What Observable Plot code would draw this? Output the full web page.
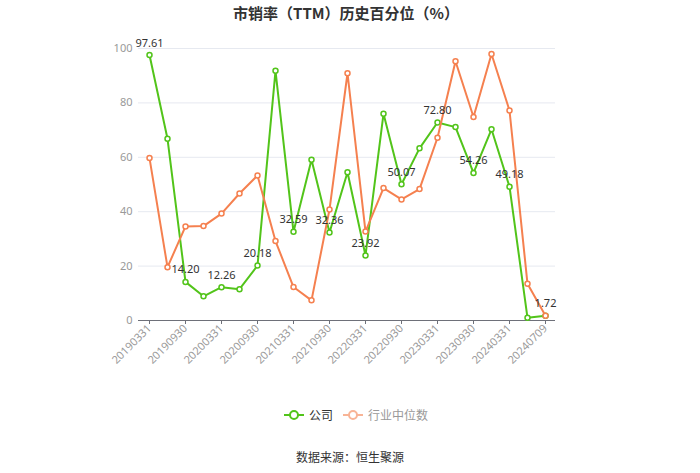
<!DOCTYPE html>
<html>
<head>
<meta charset="utf-8">
<script src="https://cdn.jsdelivr.net/npm/d3@7"></script>
<script src="https://cdn.jsdelivr.net/npm/@observablehq/plot@0.6"></script>
<style>
  body { margin:0; background:#fff; font-family:"Noto Sans CJK SC","Noto Sans",sans-serif; }
  #wrap { position:relative; width:700px; height:473px; }
  #title { position:absolute; top:0; left:-4px; width:700px; text-align:center; font-weight:bold; font-size:15px; line-height:26px; color:#333; }
  #chart { position:absolute; top:30px; left:0; }
  #legend { position:absolute; top:406px; left:6px; width:700px; display:flex; justify-content:center; align-items:center; font-size:12px; }
  .item { display:flex; align-items:center; margin:0 5px; }
  .item svg { margin-right:5px; }
  #source { position:absolute; top:448px; left:0; width:700px; text-align:center; font-size:12px; color:#333; }
</style>
</head>
<body>
<div id="wrap">
  <div id="title">市销率（TTM）历史百分位（%）</div>
  <div id="chart"></div>
  <div id="legend">
    <div class="item"><svg width="20" height="14"><line x1="0" y1="7" x2="20" y2="7" stroke="#52c41a" stroke-width="2"/><circle cx="10" cy="7" r="4" fill="#fff" stroke="#52c41a" stroke-width="2"/></svg><span style="color:#333">公司</span></div>
    <div class="item"><svg width="20" height="14"><line x1="0" y1="7" x2="20" y2="7" stroke="#f8b496" stroke-width="2"/><circle cx="10" cy="7" r="4" fill="#fff" stroke="#f8b496" stroke-width="2"/></svg><span style="color:#999">行业中位数</span></div>
  </div>
  <div id="source">数据来源：恒生聚源</div>
</div>
<script>
const dates = ["20190331","20190630","20190930","20191231","20200331","20200630","20200930","20201231","20210331","20210630","20210930","20211231","20220331","20220630","20220930","20221231","20230331","20230630","20230930","20231231","20240331","20240630","20240709"];
const company = [97.61, 66.8, 14.20, 8.9, 12.26, 11.5, 20.18, 91.8, 32.59, 59.1, 32.36, 54.5, 23.92, 76.0, 50.07, 63.3, 72.80, 71.1, 54.26, 70.3, 49.18, 1.0, 1.72];
const industry = [59.7, 19.6, 34.6, 34.7, 39.3, 46.7, 53.3, 29.2, 12.3, 7.4, 40.8, 90.9, 32.7, 48.7, 44.5, 48.3, 67.2, 95.3, 74.8, 98.0, 77.2, 13.5, 1.72];
const yTicks = [0, 20, 40, 60, 80, 100];
const xTicks = dates.filter((d, i) => i % 2 === 0);

const compData = dates.map((d, i) => ({date: d, value: company[i], i}));
const indData = dates.map((d, i) => ({date: d, value: industry[i], i}));
const labelData = compData.filter(d => d.i % 2 === 0);

const green = "#52c41a";
const orange = "#f5804f";

const chart = Plot.plot({
  width: 700,
  height: 350,
  marginTop: 18,
  marginBottom: 60,
  marginLeft: 138,
  marginRight: 145,
  style: {fontFamily: "'Noto Sans','Noto Sans CJK SC',sans-serif", fontSize: "11px", background: "transparent"},
  x: {type: "point", domain: dates, padding: 0.58, label: null},
  y: {domain: [0, 100], label: null},
  marks: [
    Plot.gridY(yTicks, {stroke: "#e6e9f0", strokeOpacity: 1}),
    Plot.axisY(yTicks, {tickSize: 0, tickPadding: 6, fill: "#999", label: null, fontSize: 11}),
    Plot.axisX(xTicks, {tickRotate: -45, tickSize: 4, tickPadding: 2, stroke: "#6e7079", fill: "#999", label: null, fontSize: 11}),
    Plot.ruleY([0], {stroke: "#6e7079"}),
    Plot.line(compData, {x: "date", y: "value", stroke: green, strokeWidth: 2}),
    Plot.dot(compData, {x: "date", y: "value", r: 2.5, fill: "#fff", stroke: green, strokeWidth: 1.5}),
    Plot.line(indData, {x: "date", y: "value", stroke: orange, strokeWidth: 2}),
    Plot.dot(indData, {x: "date", y: "value", r: 2.5, fill: "#fff", stroke: orange, strokeWidth: 1.5}),
    Plot.text(labelData, {x: "date", y: "value", text: d => d.value.toFixed(2), dy: -12, fill: "#333", fontSize: 11})
  ]
});
document.getElementById("chart").appendChild(chart);
</script>
</body>
</html>
